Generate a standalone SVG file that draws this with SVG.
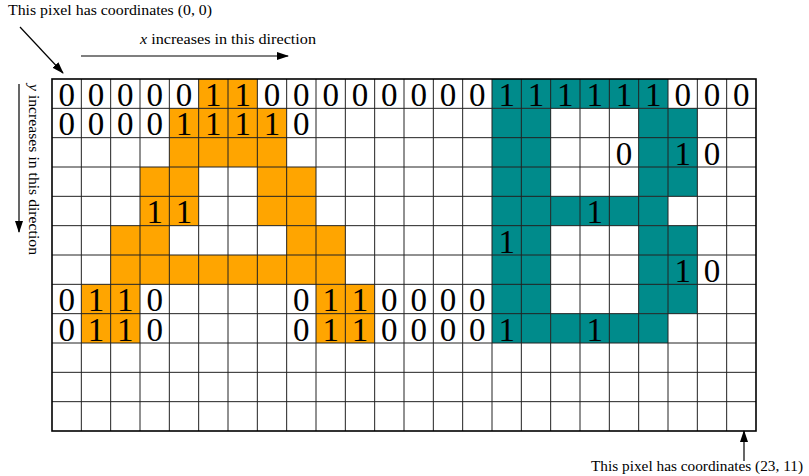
<svg xmlns="http://www.w3.org/2000/svg" width="809" height="476" viewBox="0 0 809 476">
<style>
.lbl{font-family:"Liberation Serif","DejaVu Serif",serif;font-size:14px;fill:#000}
.d{font-family:"Liberation Serif","DejaVu Serif",serif;font-size:33px;fill:#000;text-anchor:middle}
.o{fill:#FFA500}
.t{fill:#008B8B}
.ln{stroke:#000;stroke-width:1.2;fill:none}
.grid{stroke:#222;stroke-width:1;fill:none}
</style>
<defs>
<marker id="ah" markerUnits="userSpaceOnUse" markerWidth="12" markerHeight="8" refX="11" refY="4" orient="auto">
<path d="M0,0 L12,4 L0,8 z" fill="#000"/>
</marker>
</defs>
<rect width="809" height="476" fill="#fff"/>
<g id="fills">
<rect class="o" x="198.67" y="79" width="58.67" height="29.33"/>
<rect class="o" x="169.33" y="108.33" width="117.33" height="58.67"/>
<rect class="o" x="140" y="167" width="58.67" height="58.67"/>
<rect class="o" x="257.33" y="167" width="58.67" height="58.67"/>
<rect class="o" x="110.67" y="225.67" width="58.67" height="29.33"/>
<rect class="o" x="286.67" y="225.67" width="58.67" height="29.33"/>
<rect class="o" x="110.67" y="255" width="234.67" height="29.33"/>
<rect class="o" x="81.33" y="284.33" width="58.67" height="58.67"/>
<rect class="o" x="316" y="284.33" width="58.67" height="58.67"/>
<rect class="t" x="492" y="79" width="176" height="29.33"/>
<rect class="t" x="492" y="108.33" width="58.67" height="234.67"/>
<rect class="t" x="638.67" y="108.33" width="58.67" height="88"/>
<rect class="t" x="550.67" y="196.33" width="117.33" height="29.33"/>
<rect class="t" x="638.67" y="225.67" width="58.67" height="88"/>
<rect class="t" x="550.67" y="313.67" width="117.33" height="29.33"/>
</g>
<g id="grid">
<path class="grid" d="M81.33,79V431M110.67,79V431M140,79V431M169.33,79V431M198.67,79V431M228,79V431M257.33,79V431M286.67,79V431M316,79V431M345.33,79V431M374.67,79V431M404,79V431M433.33,79V431M462.67,79V431M492,79V431M521.33,79V431M550.67,79V431M580,79V431M609.33,79V431M638.67,79V431M668,79V431M697.33,79V431M726.67,79V431M52,108.33H756M52,137.67H756M52,167H756M52,196.33H756M52,225.67H756M52,255H756M52,284.33H756M52,313.67H756M52,343H756M52,372.33H756M52,401.67H756"/>
<rect x="52" y="79" width="704" height="352" fill="none" stroke="#000" stroke-width="1.6"/>
</g>
<g id="digits">
<text class="d" y="106"><tspan x="66.67">0</tspan><tspan x="96">0</tspan><tspan x="125.33">0</tspan><tspan x="154.67">0</tspan><tspan x="184">0</tspan><tspan x="213.33">1</tspan><tspan x="242.67">1</tspan><tspan x="272">0</tspan><tspan x="301.33">0</tspan><tspan x="330.67">0</tspan><tspan x="360">0</tspan><tspan x="389.33">0</tspan><tspan x="418.67">0</tspan><tspan x="448">0</tspan><tspan x="477.33">0</tspan><tspan x="506.67">1</tspan><tspan x="536">1</tspan><tspan x="565.33">1</tspan><tspan x="594.67">1</tspan><tspan x="624">1</tspan><tspan x="653.33">1</tspan><tspan x="682.67">0</tspan><tspan x="712">0</tspan><tspan x="741.33">0</tspan></text>
<text class="d" y="135.33"><tspan x="66.67">0</tspan><tspan x="96">0</tspan><tspan x="125.33">0</tspan><tspan x="154.67">0</tspan><tspan x="184">1</tspan><tspan x="213.33">1</tspan><tspan x="242.67">1</tspan><tspan x="272">1</tspan><tspan x="301.33">0</tspan></text>
<text class="d" y="164.67"><tspan x="624">0</tspan><tspan x="682.67">1</tspan><tspan x="712">0</tspan></text>
<text class="d" y="223.33"><tspan x="154.67">1</tspan><tspan x="184">1</tspan><tspan x="594.67">1</tspan></text>
<text class="d" y="252.67"><tspan x="506.67">1</tspan></text>
<text class="d" y="282"><tspan x="682.67">1</tspan><tspan x="712">0</tspan></text>
<text class="d" y="311.33"><tspan x="66.67">0</tspan><tspan x="96">1</tspan><tspan x="125.33">1</tspan><tspan x="154.67">0</tspan><tspan x="301.33">0</tspan><tspan x="330.67">1</tspan><tspan x="360">1</tspan><tspan x="389.33">0</tspan><tspan x="418.67">0</tspan><tspan x="448">0</tspan><tspan x="477.33">0</tspan></text>
<text class="d" y="340.67"><tspan x="66.67">0</tspan><tspan x="96">1</tspan><tspan x="125.33">1</tspan><tspan x="154.67">0</tspan><tspan x="301.33">0</tspan><tspan x="330.67">1</tspan><tspan x="360">1</tspan><tspan x="389.33">0</tspan><tspan x="418.67">0</tspan><tspan x="448">0</tspan><tspan x="477.33">0</tspan><tspan x="506.67">1</tspan><tspan x="594.67">1</tspan></text>
</g>
<g id="label-origin"><text class="lbl" x="8" y="15" textLength="204" lengthAdjust="spacingAndGlyphs">This pixel has coordinates (0, 0)</text></g>
<g id="label-x"><text class="lbl" x="140" y="44" textLength="176" lengthAdjust="spacingAndGlyphs"><tspan font-style="italic">x</tspan> increases in this direction</text></g>
<g id="label-y"><text class="lbl" transform="translate(29,84) rotate(90)" x="0" y="0" textLength="171" lengthAdjust="spacingAndGlyphs"><tspan font-style="italic">y</tspan> increases in this direction</text></g>
<g id="label-end"><text class="lbl" x="591" y="471" textLength="212" lengthAdjust="spacingAndGlyphs">This pixel has coordinates (23, 11)</text></g>
<g id="connectors">
<line class="ln" x1="20" y1="27" x2="63" y2="73" marker-end="url(#ah)"/>
<line class="ln" x1="81" y1="56" x2="288" y2="56" marker-end="url(#ah)"/>
<line class="ln" x1="19" y1="84" x2="19" y2="232" marker-end="url(#ah)"/>
<line class="ln" x1="744" y1="461" x2="744" y2="431" marker-end="url(#ah)"/>
</g>
</svg>
